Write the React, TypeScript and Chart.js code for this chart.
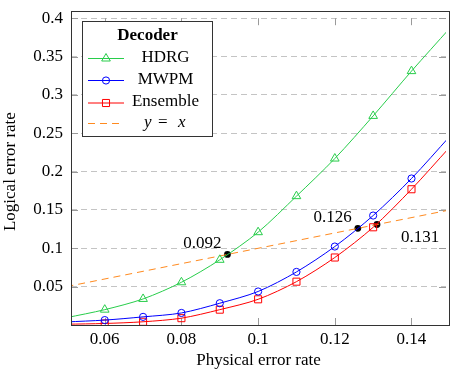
import React, { useEffect, useRef } from 'react';
import { Chart, registerables } from 'chart.js';

Chart.register(...registerables);

// ---- data ----
const physicalErrorRates = [0.05, 0.06, 0.07, 0.08, 0.09, 0.1, 0.11, 0.12, 0.13, 0.14, 0.15];
const hdrgRates = [0.0095, 0.02, 0.034, 0.0557, 0.085, 0.121, 0.168, 0.217, 0.2726, 0.331, 0.387];
const mwpmRates = [0.004, 0.0064, 0.0106, 0.0157, 0.0284, 0.0437, 0.0692, 0.1023, 0.1427, 0.191, 0.246];
const ensembleRates = [0.001, 0.002, 0.0042, 0.0089, 0.02, 0.0335, 0.0565, 0.088, 0.1274, 0.177, 0.232];
const diagonalRates = [0.05, 0.15];
const thresholdRates = [0.092, 0.126, 0.131];
const thresholdLabels = ['0.092', '0.126', '0.131'];

const xTicks = [0.06, 0.08, 0.1, 0.12, 0.14];
const xTickLabels = ['0.06', '0.08', '0.1', '0.12', '0.14'];
const yTicks = [0.05, 0.1, 0.15, 0.2, 0.25, 0.3, 0.35, 0.4];
const yTickLabels = ['0.05', '0.1', '0.15', '0.2', '0.25', '0.3', '0.35', '0.4'];

const seriesNames = ['HDRG', 'MWPM', 'Ensemble'];
const legendTitle = 'Decoder';
const xTitle = 'Physical error rate';
const yTitle = 'Logical error rate';

const X_MIN = 0.0512;
const X_MAX = 0.149;
const Y_MIN = 0;
const Y_MAX = 0.4;

// ---- styles ----
const FONT = '"Liberation Serif", "Times New Roman", serif';
const FS = 17;
const GREEN = 'rgb(40,205,75)';
const BLUE = '#0000ff';
const RED = '#ff0000';
const ORANGE = '#ff8a1f';

const labelPlacement = [
  { dx: -6, dy: -11, align: 'right' as CanvasTextAlign },
  { dx: -6, dy: -11, align: 'right' as CanvasTextAlign },
  { dx: 24, dy: 13, align: 'left' as CanvasTextAlign },
];

function inRange(ctx: any) {
  const raw = ctx.raw;
  return raw && raw.x >= X_MIN && raw.x <= X_MAX;
}

function drawMarker(ctx: CanvasRenderingContext2D, style: string, x: number, y: number, r: number, color: string) {
  ctx.save();
  ctx.strokeStyle = color;
  ctx.lineWidth = 1;
  ctx.beginPath();
  if (style === 'triangle') {
    for (let i = 0; i < 3; i++) {
      const a = (i * 2 * Math.PI) / 3;
      const px = x + Math.sin(a) * r;
      const py = y - Math.cos(a) * r;
      if (i === 0) ctx.moveTo(px, py);
      else ctx.lineTo(px, py);
    }
    ctx.closePath();
  } else if (style === 'circle') {
    ctx.arc(x, y, r, 0, Math.PI * 2);
  } else {
    const s = Math.SQRT1_2 * r;
    ctx.rect(x - s, y - s, 2 * s, 2 * s);
  }
  ctx.stroke();
  ctx.restore();
}

const decorPlugin = {
  id: 'decor',
  beforeDatasetsDraw(chart: any) {
    const { ctx, chartArea: a, scales } = chart;
    ctx.save();
    ctx.strokeStyle = '#9a9a9a';
    ctx.lineWidth = 1;
    ctx.beginPath();
    xTicks.forEach((v) => {
      const px = Math.round(scales.x.getPixelForValue(v)) + 0.5;
      ctx.moveTo(px, a.bottom);
      ctx.lineTo(px, a.bottom - 7);
      ctx.moveTo(px, a.top);
      ctx.lineTo(px, a.top + 7);
    });
    yTicks.forEach((v) => {
      const py = Math.round(scales.y.getPixelForValue(v)) + 0.5;
      ctx.moveTo(a.left, py);
      ctx.lineTo(a.left + 7, py);
      ctx.moveTo(a.right, py);
      ctx.lineTo(a.right - 7, py);
    });
    ctx.stroke();
    ctx.restore();
  },
  afterDatasetsDraw(chart: any) {
    const { ctx, scales } = chart;
    ctx.save();
    // threshold labels
    ctx.fillStyle = '#000';
    ctx.font = `${FS}px ${FONT}`;
    ctx.textBaseline = 'middle';
    thresholdRates.forEach((v, i) => {
      const px = scales.x.getPixelForValue(v);
      const py = scales.y.getPixelForValue(v);
      const p = labelPlacement[i];
      ctx.textAlign = p.align;
      ctx.fillText(thresholdLabels[i], px + p.dx, py + p.dy);
    });

    // frame
    ctx.strokeStyle = '#333';
    ctx.lineWidth = 1;
    ctx.strokeRect(71.5, 11.5, 378, 314);

    // legend
    const lx = 82.5, ly = 21.5, lw = 130, lh = 115;
    ctx.fillStyle = '#fff';
    ctx.fillRect(lx, ly, lw, lh);
    ctx.strokeStyle = '#333';
    ctx.strokeRect(lx, ly, lw, lh);

    ctx.fillStyle = '#000';
    ctx.textAlign = 'center';
    ctx.font = `bold ${FS}px ${FONT}`;
    ctx.fillText(legendTitle, 147.5, 36);

    const rows = [58.5, 80.5, 103, 123.5];
    const colors = [GREEN, BLUE, RED];
    const styles = ['triangle', 'circle', 'rect'];
    const radii = [5, 3.6, 5];
    ctx.font = `${FS}px ${FONT}`;
    seriesNames.forEach((name, i) => {
      const y = rows[i];
      ctx.strokeStyle = colors[i];
      ctx.lineWidth = 1;
      ctx.beginPath();
      ctx.moveTo(88, y);
      ctx.lineTo(124, y);
      ctx.stroke();
      drawMarker(ctx, styles[i], 106, y, radii[i], colors[i]);
      ctx.fillStyle = '#000';
      ctx.textAlign = 'center';
      ctx.fillText(name, 165.5, y - 1);
    });
    // y = x entry
    const yy = rows[3];
    ctx.strokeStyle = ORANGE;
    ctx.setLineDash([7, 5]);
    ctx.beginPath();
    ctx.moveTo(88, yy);
    ctx.lineTo(124, yy);
    ctx.stroke();
    ctx.setLineDash([]);
    ctx.fillStyle = '#000';
    ctx.textAlign = 'left';
    ctx.font = `italic ${FS}px ${FONT}`;
    ctx.fillText('y', 144, yy - 1);
    ctx.font = `${FS}px ${FONT}`;
    ctx.fillText('=', 158, yy - 1);
    ctx.font = `italic ${FS}px ${FONT}`;
    ctx.fillText('x', 178, yy - 1);
    ctx.restore();
  },
};

function series(values: number[]) {
  return physicalErrorRates.map((x, i) => ({ x, y: values[i] }));
}

export default function App() {
  const ref = useRef<HTMLCanvasElement | null>(null);

  useEffect(() => {
    if (!ref.current) return;
    const common = {
      borderWidth: 1,
      pointBorderWidth: 1,
      pointBackgroundColor: 'rgba(0,0,0,0)',
      tension: 0.3,
      clip: 0,
    };
    const chart = new Chart(ref.current, {
      type: 'line',
      data: {
        datasets: [
          {
            label: seriesNames[0],
            data: series(hdrgRates),
            borderColor: GREEN,
            pointBorderColor: GREEN,
            pointStyle: 'triangle',
            pointRadius: (c: any) => (inRange(c) ? 5 : 0),
            ...common,
          },
          {
            label: seriesNames[1],
            data: series(mwpmRates),
            borderColor: BLUE,
            pointBorderColor: BLUE,
            pointStyle: 'circle',
            pointRadius: (c: any) => (inRange(c) ? 3.6 : 0),
            ...common,
          },
          {
            label: seriesNames[2],
            data: series(ensembleRates),
            borderColor: RED,
            pointBorderColor: RED,
            pointStyle: 'rect',
            pointRadius: (c: any) => (inRange(c) ? 5 : 0),
            ...common,
          },
          {
            label: 'y = x',
            data: diagonalRates.map((v) => ({ x: v, y: v })),
            borderColor: ORANGE,
            borderDash: [7, 5],
            borderWidth: 1,
            pointRadius: 0,
            clip: 0,
          },
          {
            label: 'thresholds',
            data: thresholdRates.map((v) => ({ x: v, y: v })),
            showLine: false,
            pointRadius: 3.4,
            pointBackgroundColor: '#000',
            pointBorderColor: '#000',
            pointBorderWidth: 0,
            clip: 0,
          },
        ],
      } as any,
      options: {
        animation: false,
        responsive: false,
        devicePixelRatio: 1,
        layout: { padding: { left: 0, right: 1, top: 11, bottom: 0 } },
        plugins: { legend: { display: false }, tooltip: { enabled: false } },
        font: { family: FONT, size: FS },
        scales: {
          x: {
            type: 'linear',
            min: X_MIN,
            max: X_MAX,
            afterBuildTicks: (s: any) => {
              s.ticks = xTicks.map((v) => ({ value: v }));
            },
            afterFit: (s: any) => {
              s.height = 51;
            },
            ticks: {
              callback: (v: any) => xTickLabels[xTicks.indexOf(v)],
              font: { family: FONT, size: FS },
              color: '#000',
              padding: 4,
              maxRotation: 0,
              autoSkip: false,
            },
            grid: { display: false, drawTicks: false },
            border: { display: false },
            title: {
              display: true,
              text: xTitle,
              font: { family: FONT, size: FS },
              color: '#000',
              padding: { top: 0, bottom: 5 },
            },
          },
          y: {
            type: 'linear',
            min: Y_MIN,
            max: Y_MAX,
            afterBuildTicks: (s: any) => {
              s.ticks = yTicks.map((v) => ({ value: v }));
            },
            afterFit: (s: any) => {
              s.width = 71;
            },
            ticks: {
              callback: (v: any) => yTickLabels[yTicks.indexOf(v)],
              font: { family: FONT, size: FS },
              color: '#000',
              padding: 8,
              autoSkip: false,
            },
            grid: { color: '#c4c4c4', lineWidth: 1, drawTicks: false },
            border: { display: false, dash: [6, 4] },
            title: {
              display: true,
              text: yTitle,
              font: { family: FONT, size: FS },
              color: '#000',
              padding: { top: 0, bottom: 0 },
            },
          },
        },
      } as any,
      plugins: [decorPlugin],
    });
    return () => chart.destroy();
  }, []);

  return (
    <div style={{ position: 'fixed', left: 0, top: 0, width: 450, height: 376, background: '#fff' }}>
      <canvas ref={ref} width={450} height={376} style={{ display: 'block', width: 450, height: 376 }} />
    </div>
  );
}
